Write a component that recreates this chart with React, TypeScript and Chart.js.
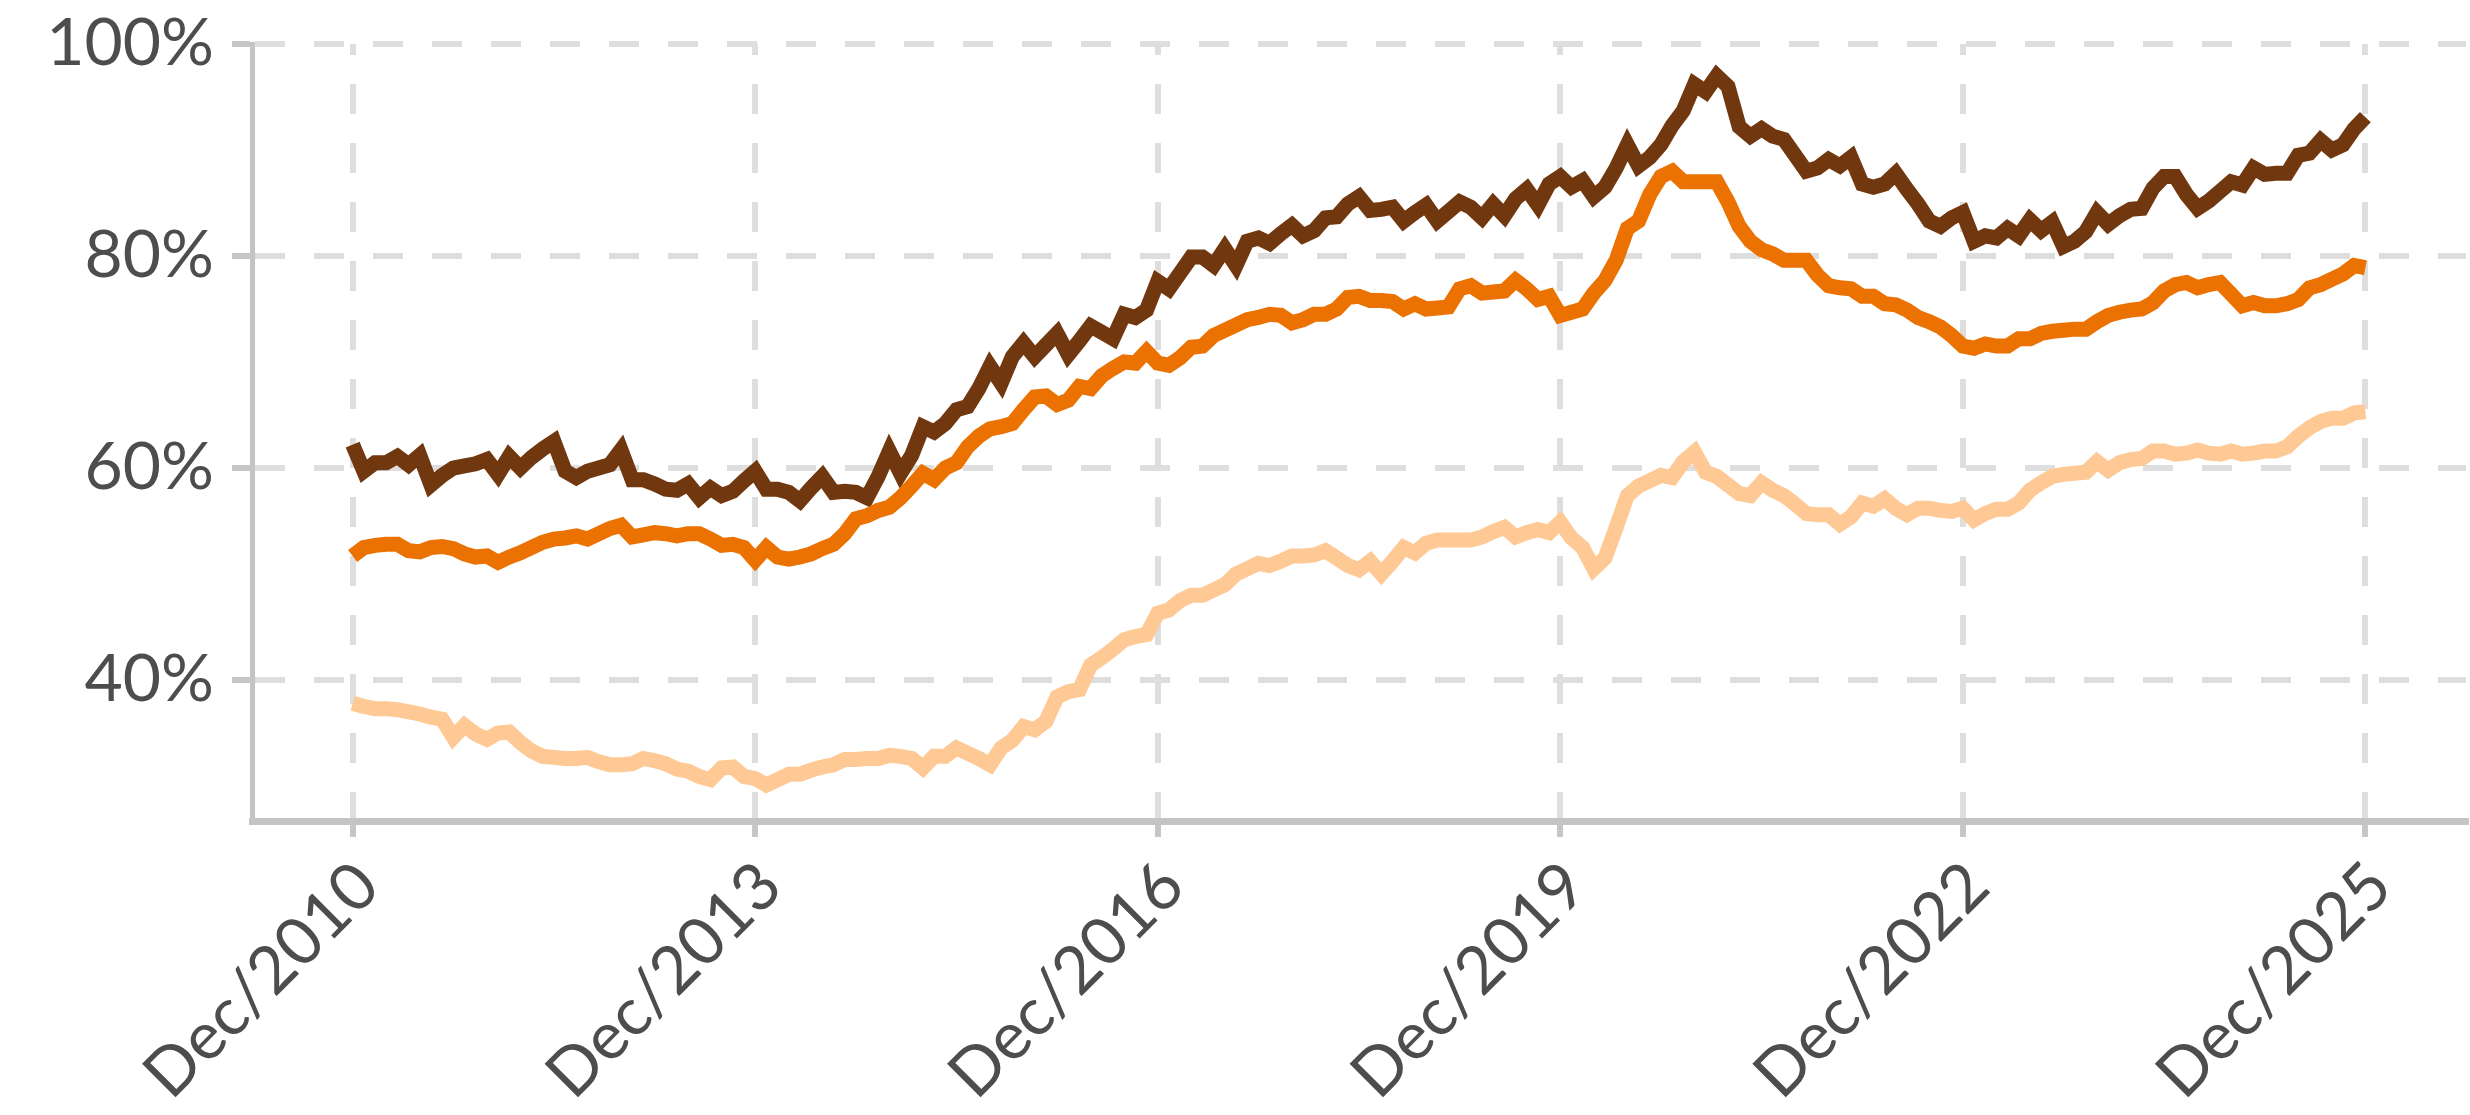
import React, { useEffect, useRef } from "react";
import { Chart, registerables } from "chart.js";

Chart.register(...registerables);

// Monthly series, Dec/2010 (index 0) to Dec/2025 (index 180)
const darkSeries = [
  62.2, 59.7, 60.5, 60.5, 61.1, 60.3, 61.2, 58.4, 59.3, 60.0,
  60.2, 60.4, 60.8, 59.4, 61.1, 60.0, 61.0, 61.8, 62.5, 59.7,
  59.1, 59.7, 60.0, 60.3, 61.7, 58.9, 58.9, 58.5, 58.0, 57.9,
  58.5, 57.2, 58.1, 57.4, 57.8, 58.8, 59.7, 58.0, 58.0, 57.7,
  56.9, 58.1, 59.2, 57.7, 57.8, 57.7, 57.2, 59.2, 61.6, 59.5,
  61.2, 63.9, 63.4, 64.2, 65.5, 65.8, 67.5, 69.6, 68.0, 70.5,
  71.8, 70.5, 71.6, 72.7, 70.7, 72.0, 73.4, 72.8, 72.2, 74.5,
  74.2, 74.9, 77.6, 76.9, 78.4, 79.9, 79.9, 79.1, 80.7, 79.1,
  81.4, 81.7, 81.2, 82.1, 82.9, 81.9, 82.4, 83.6, 83.7, 84.9,
  85.6, 84.3, 84.4, 84.6, 83.3, 84.1, 84.8, 83.3, 84.2, 85.1,
  84.6, 83.6, 84.9, 83.8, 85.4, 86.3, 84.8, 86.8, 87.5, 86.5,
  87.1, 85.6, 86.5, 88.3, 90.5, 88.5, 89.3, 90.5, 92.3, 93.7,
  96.2, 95.5, 97.0, 96.0, 92.2, 91.3, 92.0, 91.3, 91.0, 89.5,
  88.0, 88.3, 89.1, 88.5, 89.3, 86.8, 86.5, 86.8, 87.8, 86.3,
  84.9, 83.3, 82.8, 83.6, 84.1, 81.4, 81.9, 81.7, 82.6, 81.9,
  83.4, 82.4, 83.2, 80.9, 81.4, 82.3, 84.1, 83.0, 83.8, 84.4,
  84.5, 86.4, 87.5, 87.5, 85.8, 84.5, 85.2, 86.1, 87.0, 86.7,
  88.3, 87.7, 87.8, 87.8, 89.5, 89.7, 90.9, 90.0, 90.5, 92.0, 93.1,
];

const orangeSeries = [
  51.7, 52.5, 52.7, 52.8, 52.8, 52.2, 52.1, 52.5, 52.6, 52.4,
  51.9, 51.6, 51.7, 51.1, 51.6, 52.0, 52.5, 53.0, 53.3, 53.4,
  53.6, 53.3, 53.8, 54.3, 54.6, 53.5, 53.7, 53.9, 53.8, 53.6,
  53.8, 53.8, 53.3, 52.7, 52.8, 52.5, 51.3, 52.5, 51.6, 51.4,
  51.6, 51.9, 52.4, 52.8, 53.8, 55.2, 55.5, 56.0, 56.3, 57.2,
  58.3, 59.5, 58.9, 60.0, 60.5, 62.0, 63.0, 63.7, 63.9, 64.2,
  65.5, 66.7, 66.8, 66.0, 66.4, 67.7, 67.5, 68.7, 69.4, 70.0,
  69.9, 71.0, 69.9, 69.7, 70.4, 71.4, 71.5, 72.5, 73.0, 73.5,
  74.0, 74.2, 74.5, 74.4, 73.7, 74.0, 74.5, 74.5, 75.0, 76.1,
  76.2, 75.8, 75.8, 75.7, 75.0, 75.5, 75.0, 75.1, 75.2, 76.9,
  77.2, 76.5, 76.6, 76.7, 77.7, 76.9, 75.9, 76.2, 74.4, 74.7,
  75.0, 76.5, 77.7, 79.6, 82.6, 83.3, 85.8, 87.5, 88.0, 87.0,
  87.0, 87.0, 87.0, 85.1, 82.8, 81.4, 80.6, 80.2, 79.6, 79.6,
  79.6, 78.2, 77.2, 77.0, 76.9, 76.2, 76.2, 75.5, 75.4, 74.9,
  74.2, 73.8, 73.3, 72.5, 71.5, 71.3, 71.7, 71.5, 71.5, 72.2,
  72.2, 72.7, 72.9, 73.0, 73.1, 73.1, 73.8, 74.4, 74.7, 74.9,
  75.0, 75.6, 76.7, 77.3, 77.5, 77.0, 77.3, 77.5, 76.4, 75.3,
  75.6, 75.3, 75.3, 75.5, 75.9, 77.0, 77.3, 77.8, 78.3, 79.1, 78.9,
];

const lightSeries = [
  37.8, 37.5, 37.3, 37.3, 37.2, 37.0, 36.8, 36.5, 36.3, 34.6,
  35.7, 34.9, 34.4, 35.0, 35.1, 34.1, 33.3, 32.8, 32.7, 32.6,
  32.6, 32.7, 32.3, 32.0, 32.0, 32.1, 32.6, 32.4, 32.1, 31.6,
  31.4, 30.9, 30.6, 31.7, 31.8, 30.9, 30.7, 30.1, 30.6, 31.1,
  31.1, 31.5, 31.8, 32.0, 32.5, 32.5, 32.6, 32.6, 32.9, 32.8,
  32.6, 31.7, 32.8, 32.8, 33.6, 33.1, 32.6, 32.0, 33.6, 34.3,
  35.6, 35.3, 36.1, 38.4, 38.9, 39.1, 41.4, 42.1, 42.9, 43.8,
  44.1, 44.3, 46.3, 46.6, 47.5, 48.0, 48.0, 48.5, 49.0, 50.0,
  50.5, 51.0, 50.8, 51.2, 51.7, 51.7, 51.8, 52.2, 51.5, 50.8,
  50.4, 51.2, 50.0, 51.2, 52.5, 52.0, 52.9, 53.2, 53.2, 53.2,
  53.2, 53.5, 54.0, 54.4, 53.5, 53.9, 54.2, 53.9, 54.9, 53.4,
  52.5, 50.5, 51.5, 54.4, 57.4, 58.3, 58.8, 59.3, 59.1, 60.6,
  61.5, 59.6, 59.2, 58.4, 57.6, 57.4, 58.6, 57.9, 57.4, 56.6,
  55.7, 55.6, 55.6, 54.7, 55.4, 56.7, 56.4, 57.1, 56.2, 55.6,
  56.2, 56.2, 56.0, 55.9, 56.2, 55.1, 55.7, 56.1, 56.1, 56.7,
  57.9, 58.6, 59.2, 59.4, 59.5, 59.6, 60.6, 59.8, 60.5, 60.8,
  60.9, 61.6, 61.6, 61.3, 61.4, 61.7, 61.4, 61.3, 61.6, 61.3,
  61.4, 61.6, 61.6, 62.0, 63.0, 63.8, 64.4, 64.7, 64.7, 65.2, 65.3,
];

const xTickLabels = ["Dec/2010", "Dec/2013", "Dec/2016", "Dec/2019", "Dec/2022", "Dec/2025"];
const xTickIndices = [0, 36, 72, 108, 144, 180];
const yTickValues = [40, 60, 80, 100];

const toPoints = (arr: number[]) => arr.map((v, i) => ({ x: i, y: v }));

export default function App() {
  const canvasRef = useRef<HTMLCanvasElement | null>(null);

  useEffect(() => {
    const canvas = canvasRef.current;
    if (!canvas) return;
    const font = { family: "Lato", size: 66 };
    const lineStyle = { borderWidth: 15, pointRadius: 0, tension: 0, borderJoinStyle: "miter" as const };
    const chart = new Chart(canvas, {
      type: "line",
      data: {
        datasets: [
          { data: toPoints(lightSeries), borderColor: "#fec995", ...lineStyle },
          { data: toPoints(orangeSeries), borderColor: "#eb7100", ...lineStyle },
          { data: toPoints(darkSeries), borderColor: "#71370f", ...lineStyle },
        ],
      },
      options: {
        responsive: false,
        animation: false,
        events: [],
        layout: { padding: { left: 0, right: 4, top: 44, bottom: 0 } },
        plugins: { legend: { display: false }, tooltip: { enabled: false } },
        scales: {
          x: {
            type: "linear",
            min: -9,
            max: 189,
            afterBuildTicks: (axis: any) => {
              axis.ticks = xTickIndices.map((v) => ({ value: v }));
            },
            afterFit: (scale: any) => {
              scale.height = 294;
            },
            ticks: {
              autoSkip: false,
              maxRotation: 45,
              minRotation: 45,
              padding: 10,
              labelOffset: 15,
              color: "#4d4d4d",
              font,
              callback: (value: any) => {
                const idx = xTickIndices.indexOf(Number(value));
                return idx >= 0 ? xTickLabels[idx] : "";
              },
            },
            grid: {
              color: "#dedede",
              lineWidth: 6,
              tickLength: 16,
              tickColor: "#c6c6c6",
              tickWidth: 6,
            },
            border: { display: true, color: "#c4c4c4", width: 7, dash: [30, 29], dashOffset: 19 },
          },
          y: {
            type: "linear",
            min: 26.7,
            max: 100,
            afterBuildTicks: (axis: any) => {
              axis.ticks = yTickValues.map((v) => ({ value: v }));
            },
            afterFit: (scale: any) => {
              scale.width = 252;
              scale.paddingTop = 0;
              scale.paddingBottom = 0;
            },
            ticks: {
              padding: 18,
              color: "#4d4d4d",
              font,
              callback: (value: any) => `${value}%`,
            },
            grid: {
              color: "#dedede",
              lineWidth: 6,
              tickLength: 20,
              tickColor: "#c6c6c6",
              tickWidth: 6,
            },
            border: { display: true, color: "#c4c4c4", width: 5, dash: [30, 29], dashOffset: 0 },
          },
        },
      },
    } as any);
    return () => chart.destroy();
  }, []);

  return (
    <div style={{ position: "absolute", left: 0, top: 0, width: 2470, height: 1115, background: "#fff" }}>
      <canvas ref={canvasRef} width={2470} height={1115} style={{ display: "block" }} />
    </div>
  );
}
